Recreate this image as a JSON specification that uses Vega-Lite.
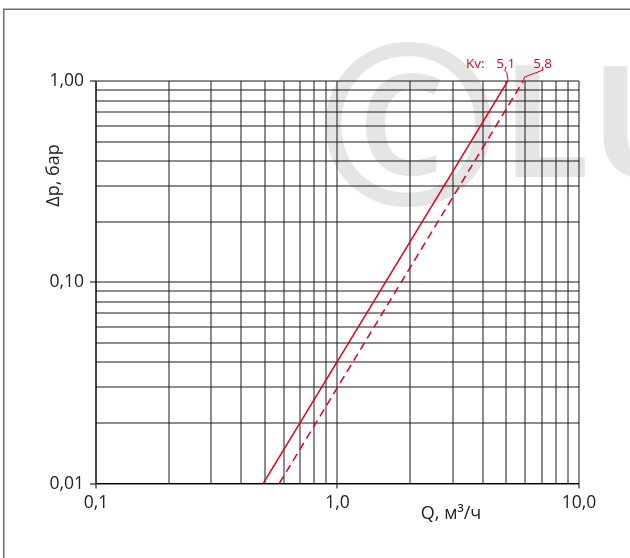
{
  "$schema": "https://vega.github.io/schema/vega-lite/v6.json",
  "width": 483,
  "height": 402.5,
  "autosize": {"type": "none"},
  "padding": {"left": 95.5, "top": 80.5, "right": 51.5, "bottom": 75},
  "background": "white",
  "config": {
    "view": {"stroke": null},
    "font": "Open Sans"
  },
  "encoding": {
    "x": {
      "field": "Q",
      "type": "quantitative",
      "scale": {"type": "log", "domain": [0.1, 10], "nice": false},
      "axis": {
        "values": [0.1, 0.2, 0.3, 0.4, 0.5, 0.6, 0.7, 0.8, 0.9, 1, 2, 3, 4, 5, 6, 7, 8, 9, 10],
        "grid": true,
        "gridColor": "#1a1a1a",
        "gridWidth": 1,
        "gridOpacity": 1,
        "domainColor": "#000000",
        "tickColor": "#000000",
        "tickSize": 5,
        "tickOpacity": {"condition": {"test": "datum.value == 0.1 || datum.value == 1 || datum.value == 10", "value": 1}, "value": 0},
        "labelExpr": "datum.value == 0.1 ? '0,1' : datum.value == 1 ? '1,0' : datum.value == 10 ? '10,0' : ''",
        "labelFont": "Open Sans",
        "labelFontSize": 17.5,
        "labelColor": "#222222",
        "labelPadding": 5.5,
        "labelOverlap": false,
        "labelFlush": false,
        "labelBound": false,
        "title": "Q, м³/ч",
        "titleFont": "Open Sans",
        "titleFontSize": 18,
        "titleFontWeight": "normal",
        "titleColor": "#222222",
        "titleX": 355,
        "titleY": 35,
        "titleAlign": "center",
        "titleBaseline": "alphabetic"
      }
    },
    "y": {
      "field": "dp",
      "type": "quantitative",
      "scale": {"type": "log", "domain": [0.01, 1], "nice": false},
      "axis": {
        "values": [0.01, 0.02, 0.03, 0.04, 0.05, 0.06, 0.07, 0.08, 0.09, 0.1, 0.2, 0.3, 0.4, 0.5, 0.6, 0.7, 0.8, 0.9, 1],
        "grid": true,
        "gridColor": "#1a1a1a",
        "gridWidth": 1,
        "gridOpacity": 1,
        "domainColor": "#000000",
        "tickColor": "#000000",
        "tickSize": 6,
        "tickOpacity": {"condition": {"test": "datum.value == 0.01 || datum.value == 0.1 || datum.value == 1", "value": 1}, "value": 0},
        "labelExpr": "datum.value == 0.01 ? '0,01' : datum.value == 0.1 ? '0,10' : datum.value == 1 ? '1,00' : ''",
        "labelFont": "Open Sans",
        "labelFontSize": 17.5,
        "labelColor": "#222222",
        "labelPadding": 6,
        "labelOverlap": false,
        "labelFlush": false,
        "labelBound": false,
        "title": "Δp, бар",
        "titleFont": "Open Sans",
        "titleFontSize": 18,
        "titleFontWeight": "normal",
        "titleColor": "#222222",
        "titleAngle": 270,
        "titleX": -42.5,
        "titleY": 94.5,
        "titleAlign": "center",
        "titleBaseline": "middle"
      }
    }
  },
  "layer": [
    {
      "data": {"values": [{"Q": 0.0417, "Q2": 40, "dp": 2.258, "dp2": 0.002}]},
      "mark": {"type": "rect", "filled": false, "stroke": "#6e6e6e", "strokeWidth": 1.5, "clip": false},
      "encoding": {
        "x2": {"field": "Q2"},
        "y2": {"field": "dp2"}
      }
    },
    {
      "data": {"values": [{"Q": 1.975, "dp": 0.524, "txt": "©"}]},
      "mark": {"type": "text", "font": "Open Sans", "fontSize": 225, "fontWeight": "bold", "fill": "#e5e5e5", "align": "center", "baseline": "middle", "blend": "multiply", "clip": false},
      "encoding": {"text": {"field": "txt"}}
    },
    {
      "data": {"values": [{"Q": 4.8, "dp": 0.3317, "txt": "LU"}]},
      "mark": {"type": "text", "font": "Open Sans", "fontSize": 157, "fontWeight": "bold", "fill": "#e5e5e5", "align": "left", "baseline": "alphabetic", "blend": "multiply", "clip": false},
      "encoding": {"text": {"field": "txt"}}
    },
    {
      "data": {
        "values": [
          {"Kv": "5,1", "Q": 0.496, "dp": 0.01},
          {"Kv": "5,1", "Q": 5.11, "dp": 1.0},
          {"Kv": "5,8", "Q": 0.578, "dp": 0.01},
          {"Kv": "5,8", "Q": 5.92, "dp": 1.0}
        ]
      },
      "mark": {"type": "line", "color": "#e2001a", "strokeWidth": 1.5},
      "encoding": {
        "detail": {"field": "Kv"},
        "strokeDash": {
          "field": "Kv",
          "type": "nominal",
          "scale": {"domain": ["5,1", "5,8"], "range": [[1, 0], [8, 5]]},
          "legend": null
        }
      }
    },
    {
      "data": {
        "values": [
          {"id": "a", "o": 1, "Q": 4.935, "dp": 1.13},
          {"id": "a", "o": 2, "Q": 5.05, "dp": 1.092},
          {"id": "a", "o": 3, "Q": 5.11, "dp": 1.0},
          {"id": "b", "o": 1, "Q": 7.18, "dp": 1.13},
          {"id": "b", "o": 2, "Q": 5.97, "dp": 1.04},
          {"id": "b", "o": 3, "Q": 5.92, "dp": 1.0}
        ]
      },
      "mark": {"type": "line", "color": "#e2001a", "strokeWidth": 1, "clip": false},
      "encoding": {
        "detail": {"field": "id"},
        "order": {"field": "o"}
      }
    },
    {
      "data": {
        "values": [
          {"Q": 3.42, "dp": 1.156, "txt": "Kv:"},
          {"Q": 4.57, "dp": 1.156, "txt": "5,1"},
          {"Q": 6.49, "dp": 1.156, "txt": "5,8"}
        ]
      },
      "mark": {"type": "text", "font": "Open Sans", "fontSize": 13.5, "fill": "#e2001a", "align": "left", "baseline": "alphabetic", "clip": false},
      "encoding": {"text": {"field": "txt"}}
    }
  ]
}
